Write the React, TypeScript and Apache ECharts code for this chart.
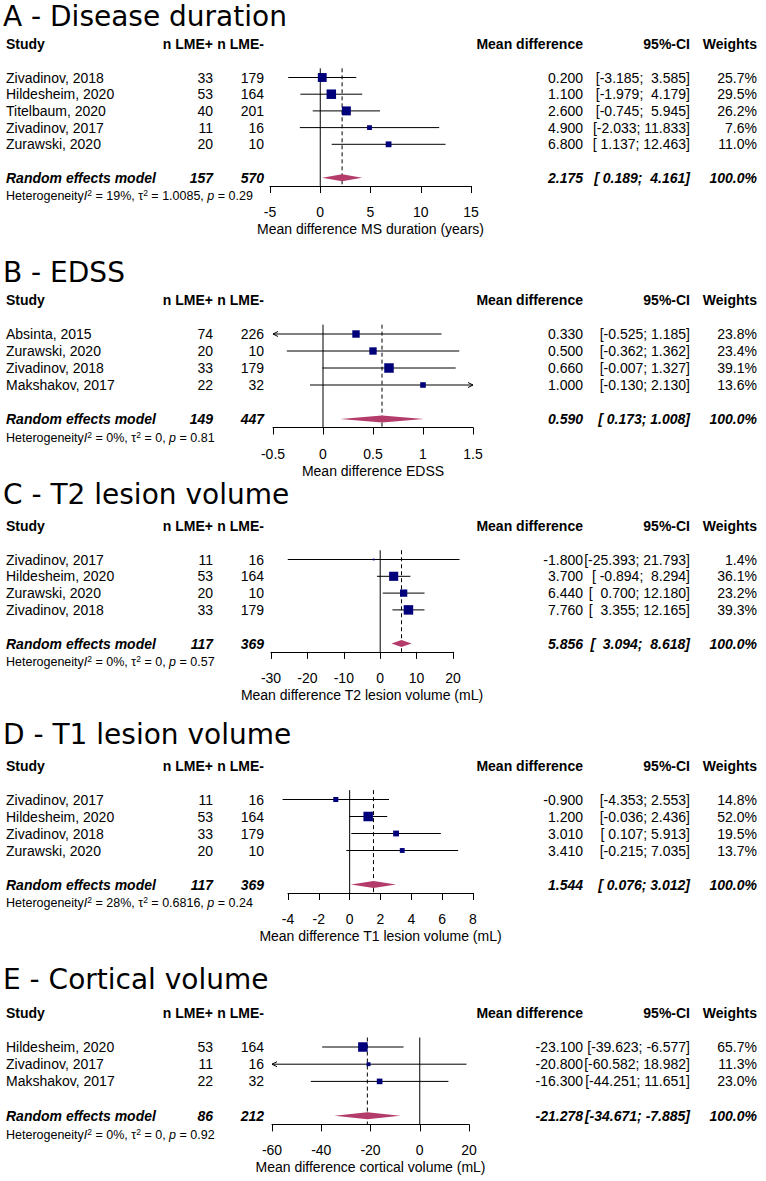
import React, { useEffect, useRef } from "react";
import * as echarts from "echarts";

// ---------------- Panel A: Disease duration ----------------
const titleA = "A - Disease duration";
const axisTitleA = "Mean difference MS duration (years)";
const studiesA = ["Zivadinov, 2018", "Hildesheim, 2020", "Titelbaum, 2020", "Zivadinov, 2017", "Zurawski, 2020"];
const nPlusA = [33, 53, 40, 11, 20];
const nMinusA = [179, 164, 201, 16, 10];
const mdA = [0.2, 1.1, 2.6, 4.9, 6.8];
const lowerA = [-3.185, -1.979, -0.745, -2.033, 1.137];
const upperA = [3.585, 4.179, 5.945, 11.833, 12.463];
const weightA = [25.7, 29.5, 26.2, 7.6, 11.0];
const summaryA = [157, 570, 2.175, 0.189, 4.161];
const ticksA = [-5, 0, 5, 10, 15];
const xlimA = [-5, 15];
const hetA = ["19%", "1.0085", "0.29"];

// ---------------- Panel B: EDSS ----------------
const titleB = "B - EDSS";
const axisTitleB = "Mean difference EDSS";
const studiesB = ["Absinta, 2015", "Zurawski, 2020", "Zivadinov, 2018", "Makshakov, 2017"];
const nPlusB = [74, 20, 33, 22];
const nMinusB = [226, 10, 179, 32];
const mdB = [0.33, 0.5, 0.66, 1.0];
const lowerB = [-0.525, -0.362, -0.007, -0.13];
const upperB = [1.185, 1.362, 1.327, 2.13];
const weightB = [23.8, 23.4, 39.1, 13.6];
const summaryB = [149, 447, 0.59, 0.173, 1.008];
const ticksB = [-0.5, 0, 0.5, 1, 1.5];
const xlimB = [-0.5, 1.5];
const hetB = ["0%", "0", "0.81"];

// ---------------- Panel C: T2 lesion volume ----------------
const titleC = "C - T2 lesion volume";
const axisTitleC = "Mean difference T2 lesion volume (mL)";
const studiesC = ["Zivadinov, 2017", "Hildesheim, 2020", "Zurawski, 2020", "Zivadinov, 2018"];
const nPlusC = [11, 53, 20, 33];
const nMinusC = [16, 164, 10, 179];
const mdC = [-1.8, 3.7, 6.44, 7.76];
const lowerC = [-25.393, -0.894, 0.7, 3.355];
const upperC = [21.793, 8.294, 12.18, 12.165];
const weightC = [1.4, 36.1, 23.2, 39.3];
const summaryC = [117, 369, 5.856, 3.094, 8.618];
const ticksC = [-30, -20, -10, 0, 10, 20];
const xlimC = [-30, 25];
const hetC = ["0%", "0", "0.57"];

// ---------------- Panel D: T1 lesion volume ----------------
const titleD = "D - T1 lesion volume";
const axisTitleD = "Mean difference T1 lesion volume (mL)";
const studiesD = ["Zivadinov, 2017", "Hildesheim, 2020", "Zivadinov, 2018", "Zurawski, 2020"];
const nPlusD = [11, 53, 33, 20];
const nMinusD = [16, 164, 179, 10];
const mdD = [-0.9, 1.2, 3.01, 3.41];
const lowerD = [-4.353, -0.036, 0.107, -0.215];
const upperD = [2.553, 2.436, 5.913, 7.035];
const weightD = [14.8, 52.0, 19.5, 13.7];
const summaryD = [117, 369, 1.544, 0.076, 3.012];
const ticksD = [-4, -2, 0, 2, 4, 6, 8];
const xlimD = [-5, 8];
const hetD = ["28%", "0.6816", "0.24"];

// ---------------- Panel E: Cortical volume ----------------
const titleE = "E - Cortical volume";
const axisTitleE = "Mean difference cortical volume (mL)";
const studiesE = ["Hildesheim, 2020", "Zivadinov, 2017", "Makshakov, 2017"];
const nPlusE = [53, 11, 22];
const nMinusE = [164, 16, 32];
const mdE = [-23.1, -20.8, -16.3];
const lowerE = [-39.623, -60.582, -44.251];
const upperE = [-6.577, 18.982, 11.651];
const weightE = [65.7, 11.3, 23.0];
const summaryE = [86, 212, -21.278, -34.671, -7.885];
const ticksE = [-60, -40, -20, 0, 20];
const xlimE = [-60, 20];
const hetE = ["0%", "0", "0.92"];

const panels = [
  { title: titleA, axisTitle: axisTitleA, studies: studiesA, nPlus: nPlusA, nMinus: nMinusA, md: mdA, lower: lowerA, upper: upperA, weight: weightA, summary: summaryA, ticks: ticksA, xlim: xlimA, het: hetA },
  { title: titleB, axisTitle: axisTitleB, studies: studiesB, nPlus: nPlusB, nMinus: nMinusB, md: mdB, lower: lowerB, upper: upperB, weight: weightB, summary: summaryB, ticks: ticksB, xlim: xlimB, het: hetB },
  { title: titleC, axisTitle: axisTitleC, studies: studiesC, nPlus: nPlusC, nMinus: nMinusC, md: mdC, lower: lowerC, upper: upperC, weight: weightC, summary: summaryC, ticks: ticksC, xlim: xlimC, het: hetC },
  { title: titleD, axisTitle: axisTitleD, studies: studiesD, nPlus: nPlusD, nMinus: nMinusD, md: mdD, lower: lowerD, upper: upperD, weight: weightD, summary: summaryD, ticks: ticksD, xlim: xlimD, het: hetD },
  { title: titleE, axisTitle: axisTitleE, studies: studiesE, nPlus: nPlusE, nMinus: nMinusE, md: mdE, lower: lowerE, upper: upperE, weight: weightE, summary: summaryE, ticks: ticksE, xlim: xlimE, het: hetE },
];

// ---------------- Layout (pixels) ----------------
const layouts = [
  { titleY: 16, firstRow: 77.5, gap: 16.7, left: 270, right: 471 },
  { titleY: 272, firstRow: 334, gap: 17, left: 273, right: 473 },
  { titleY: 494, firstRow: 559.5, gap: 16.8, left: 271, right: 453 },
  { titleY: 734, firstRow: 799.5, gap: 17, left: 288, right: 473 },
  { titleY: 979, firstRow: 1047, gap: 17.2, left: 272, right: 469 },
];
const COL = { study: 6, nPlus: 213, nMinus: 264, md: 583, ci: 690, w: 757 };
const FONT = '"Liberation Sans", Arial, sans-serif';
const TITLE_FONT = '"DejaVu Sans", Verdana, sans-serif';
const NAVY = "#00007a";
const PINK = "#b43c6a";
const FS = 14;
const NB = "\u00a0";

function ciFormatter(lowers: number[], uppers: number[]) {
  const lw = Math.max(...lowers.map((v) => v.toFixed(3).length));
  const uw = Math.max(...uppers.map((v) => v.toFixed(3).length));
  return (lo: number, hi: number) =>
    `[${lo.toFixed(3).padStart(lw, NB)}; ${hi.toFixed(3).padStart(uw, NB)}]`;
}

function txt(text: string, x: number, y: number, align: string, opts: any = {}) {
  return {
    type: "text",
    style: {
      text,
      x,
      y,
      align,
      verticalAlign: "middle",
      fill: "#000",
      fontFamily: FONT,
      fontSize: FS,
      ...opts,
    },
  };
}

function buildOption() {
  const grid: any[] = [];
  const xAxis: any[] = [];
  const yAxis: any[] = [];
  const series: any[] = [];
  const graphic: any[] = [];

  panels.forEach((p, i) => {
    const L = layouts[i];
    const n = p.studies.length;
    const wmax = Math.max(...p.weight);
    const step = p.ticks[1] - p.ticks[0];
    const ci = ciFormatter([...p.lower, p.summary[3]], [...p.upper, p.summary[4]]);
    grid.push({
      left: L.left,
      width: L.right - L.left,
      top: L.firstRow - 2 * L.gap,
      height: (n + 3.5) * L.gap,
      containLabel: false,
    });
    xAxis.push({
      gridIndex: i,
      type: "value",
      min: p.ticks[0],
      max: p.ticks[p.ticks.length - 1],
      interval: step,
      splitLine: { show: false },
      axisLine: { show: true, onZero: false, lineStyle: { color: "#000", width: 1 } },
      axisTick: { show: true, length: 7, lineStyle: { color: "#000", width: 1 } },
      axisLabel: { margin: 19, color: "#000", fontSize: FS, fontFamily: FONT },
      name: p.axisTitle,
      nameLocation: "middle",
      nameGap: 36,
      nameTextStyle: { color: "#000", fontSize: FS, fontFamily: FONT },
    });
    yAxis.push({ gridIndex: i, type: "value", min: -2, max: n + 1.5, inverse: true, show: false });

    graphic.push({
      type: "text",
      x: 3,
      y: L.titleY,
      style: { text: p.title, fontFamily: TITLE_FONT, fontSize: 28, fill: "#000", verticalAlign: "middle" },
    });

    // reference lines: no-effect line and summary dashed line
    series.push({
      type: "custom",
      coordinateSystem: "cartesian2d",
      xAxisIndex: i,
      yAxisIndex: i,
      clip: false,
      silent: true,
      data: [[0, 0]],
      renderItem: (_params: any, api: any) => {
        const top = -0.55;
        const bot = n + 1.5;
        const z0 = api.coord([0, top]);
        const z1 = api.coord([0, bot]);
        const s0 = api.coord([p.summary[2], top]);
        const s1 = api.coord([p.summary[2], bot]);
        return {
          type: "group",
          children: [
            { type: "line", shape: { x1: z0[0], y1: z0[1], x2: z1[0], y2: z1[1] }, style: { stroke: "#000", lineWidth: 1 } },
            { type: "line", shape: { x1: s0[0], y1: s0[1], x2: s1[0], y2: s1[1] }, style: { stroke: "#000", lineWidth: 1, lineDash: [4, 3] } },
          ],
        };
      },
    });

    // studies
    series.push({
      type: "custom",
      coordinateSystem: "cartesian2d",
      xAxisIndex: i,
      yAxisIndex: i,
      clip: false,
      silent: true,
      data: p.md.map((m, k) => [m, k]),
      renderItem: (params: any, api: any) => {
        const k = params.dataIndex;
        const y = api.coord([0, k])[1];
        const xm = api.coord([p.md[k], k])[0];
        const lo = Math.max(p.lower[k], p.xlim[0]);
        const hi = Math.min(p.upper[k], p.xlim[1]);
        const xl = api.coord([lo, k])[0];
        const xh = api.coord([hi, k])[0];
        const size = 9.5 * Math.sqrt(p.weight[k] / wmax);
        const children: any[] = [
          { type: "line", shape: { x1: xl, y1: y, x2: xh, y2: y }, style: { stroke: "#000", lineWidth: 1 } },
          { type: "rect", shape: { x: xm - size / 2, y: y - size / 2, width: size, height: size }, style: { fill: NAVY } },
          txt(p.studies[k], COL.study, y, "left"),
          txt(String(p.nPlus[k]), COL.nPlus, y, "right"),
          txt(String(p.nMinus[k]), COL.nMinus, y, "right"),
          txt(p.md[k].toFixed(3), COL.md, y, "right"),
          txt(ci(p.lower[k], p.upper[k]), COL.ci, y, "right"),
          txt(p.weight[k].toFixed(1) + "%", COL.w, y, "right"),
        ];
        if (p.lower[k] < p.xlim[0]) {
          children.push({ type: "polyline", shape: { points: [[xl + 5, y - 2.5], [xl, y], [xl + 5, y + 2.5]] }, style: { stroke: "#000", lineWidth: 1, fill: null } });
        }
        if (p.upper[k] > p.xlim[1]) {
          children.push({ type: "polyline", shape: { points: [[xh - 5, y - 2.5], [xh, y], [xh - 5, y + 2.5]] }, style: { stroke: "#000", lineWidth: 1, fill: null } });
        }
        return { type: "group", children };
      },
    });

    // summary (random effects diamond)
    series.push({
      type: "custom",
      coordinateSystem: "cartesian2d",
      xAxisIndex: i,
      yAxisIndex: i,
      clip: false,
      silent: true,
      data: [[p.summary[2], n + 1]],
      renderItem: (_params: any, api: any) => {
        const row = n + 1;
        const y = api.coord([0, row])[1];
        const xm = api.coord([p.summary[2], row])[0];
        const xl = api.coord([p.summary[3], row])[0];
        const xh = api.coord([p.summary[4], row])[0];
        const h = 3.5;
        const bi = { fontWeight: "bold", fontStyle: "italic" };
        return {
          type: "group",
          children: [
            { type: "polygon", shape: { points: [[xl, y], [xm, y - h], [xh, y], [xm, y + h]] }, style: { fill: PINK } },
            txt("Random effects model", COL.study, y, "left", bi),
            txt(String(p.summary[0]), COL.nPlus, y, "right", bi),
            txt(String(p.summary[1]), COL.nMinus, y, "right", bi),
            txt(p.summary[2].toFixed(3), COL.md, y, "right", bi),
            txt(ci(p.summary[3], p.summary[4]), COL.ci, y, "right", bi),
            txt("100.0%", COL.w, y, "right", bi),
          ],
        };
      },
    });

    // header and heterogeneity text
    series.push({
      type: "custom",
      coordinateSystem: "cartesian2d",
      xAxisIndex: i,
      yAxisIndex: i,
      clip: false,
      silent: true,
      data: [[0, -2]],
      renderItem: (_params: any, api: any) => {
        const yh = api.coord([0, -2])[1];
        const yt = api.coord([0, n + 2.1])[1];
        const b = { fontWeight: "bold" };
        return {
          type: "group",
          children: [
            txt("Study", COL.study, yh, "left", b),
            txt("n LME+", COL.nPlus, yh, "right", b),
            txt("n LME-", COL.nMinus, yh, "right", b),
            txt("Mean difference", COL.md, yh, "right", b),
            txt("95%-CI", COL.ci, yh, "right", b),
            txt("Weights", COL.w, yh, "right", b),
            {
              type: "text",
              style: {
                text: `Heterogeneity{i|I}{s|2} = ${p.het[0]}, \u03c4{s|2} = ${p.het[1]}, {i|p} = ${p.het[2]}`,
                x: COL.study,
                y: yt,
                align: "left",
                verticalAlign: "middle",
                fill: "#000",
                fontFamily: FONT,
                fontSize: 12.5,
                rich: {
                  i: { fontStyle: "italic", fontFamily: FONT, fontSize: 12.5, fill: "#000" },
                  s: { fontFamily: FONT, fontSize: 8.5, fill: "#000", verticalAlign: "top", padding: [0, 0, 6, 0] },
                },
              },
            },
          ],
        };
      },
    });
  });

  return {
    animation: false,
    backgroundColor: "#fff",
    grid,
    xAxis,
    yAxis,
    series,
    graphic,
  };
}

export default function App() {
  const ref = useRef<HTMLDivElement>(null);
  useEffect(() => {
    document.body.style.margin = "0";
    const chart = echarts.init(ref.current!, null, { renderer: "svg" });
    chart.setOption(buildOption() as any);
    return () => chart.dispose();
  }, []);
  return <div ref={ref} style={{ width: 766, height: 1181, background: "#fff" }} />;
}
